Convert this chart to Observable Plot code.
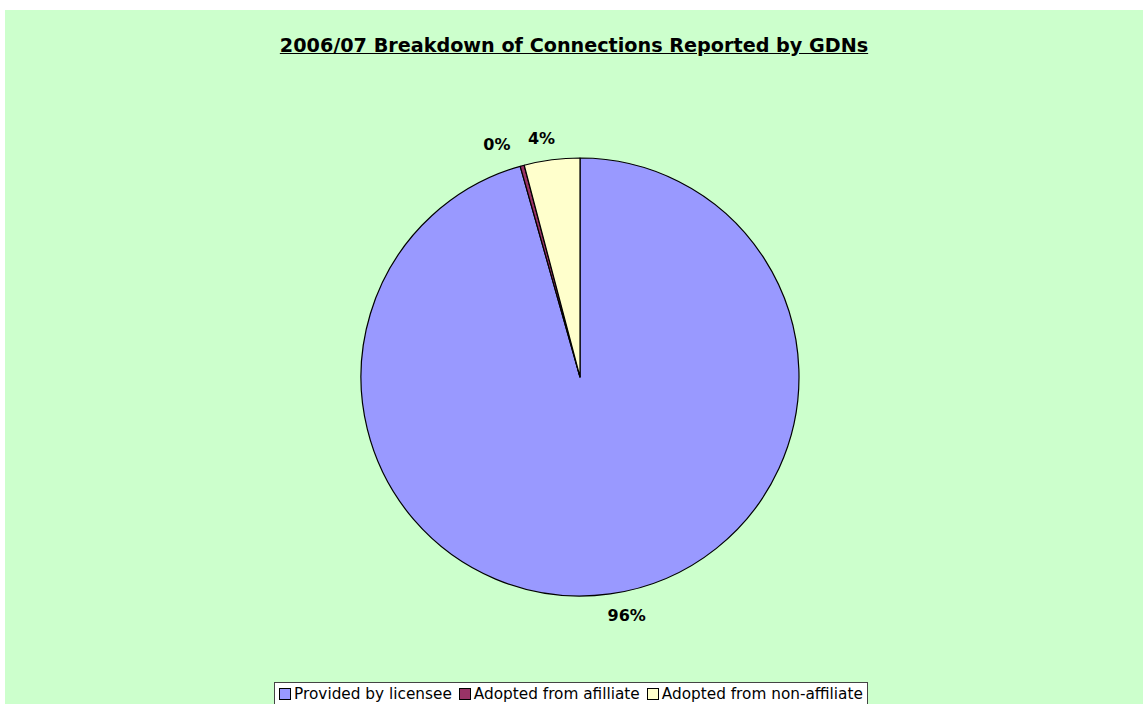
<!DOCTYPE html>
<html>
<head>
<meta charset="utf-8">
<script src="https://cdn.jsdelivr.net/npm/d3@7"></script>
<script src="https://cdn.jsdelivr.net/npm/@observablehq/plot@0.6"></script>
<style>
  html, body { margin: 0; padding: 0; background: #ffffff; }
  #frame {
    position: absolute; left: 5px; top: 10px; width: 1138px; height: 694px;
    background: #CCFFCC; overflow: hidden; font-family: "DejaVu Sans", Verdana, sans-serif;
  }
  #title {
    height: 70px; box-sizing: border-box; padding-top: 25px; text-align: center;
    font-size: 19.2px; font-weight: bold; line-height: 22px; color: #000;
  }
  #title span { text-decoration: underline; }
  #chart { height: 592px; }
  #legend { text-align: center; margin-top: 10px; }
  #legend .box {
    display: inline-block; background: #fff; border: 1px solid #444;
    padding: 1px 4px 6px 4px; font-size: 15.3px; line-height: 20px; color: #000; white-space: nowrap;
    margin-left: -6px;
  }
  #legend .sw {
    display: inline-block; width: 10px; height: 10px; border: 1px solid #000;
    margin-right: 3px; vertical-align: -1px;
  }
  #legend .item { margin-right: 7px; }
  #legend .item:last-child { margin-right: 0; }
</style>
</head>
<body>
<div id="frame">
  <div id="title"><span>2006/07 Breakdown of Connections Reported by GDNs</span></div>
  <div id="chart"></div>
  <div id="legend"></div>
</div>
<script>
// ---- data ----
const categories = ["Provided by licensee", "Adopted from afilliate", "Adopted from non-affiliate"];
const values = [95.6, 0.3, 4.1];
const colors = ["#9999FF", "#993366", "#FFFFCC"];

// ---- layout ----
const W = 1138, H = 592, cx = 575, cy = 297, R = 219;
const labelDx = [13, -20, -8];

const data = categories.map((c, i) => ({category: c, value: values[i]}));
const total = d3.sum(values);
const arcs = d3.pie().sort(null).value(d => d.value)(data);
const labels = arcs.map((a, i) => {
  const mid = (a.startAngle + a.endAngle) / 2;
  return {x: 1.1 * Math.sin(mid), y: 1.1 * Math.cos(mid),
          text: Math.round(a.data.value / total * 100) + "%", dx: labelDx[i]};
});

const pieMark = (index, scales) => {
  const r = scales.x(1) - scales.x(0);
  const ox = scales.x(0), oy = scales.y(0);
  const g = d3.create("svg:g").attr("transform", `translate(${ox},${oy})`);
  const arcGen = d3.arc().innerRadius(0).outerRadius(r);
  g.selectAll("path").data(arcs).join("path")
    .attr("d", arcGen)
    .attr("fill", d => scales.color(d.data.category))
    .attr("stroke", "#000").attr("stroke-width", 1.2).attr("stroke-linejoin", "round");
  return g.node();
};

const plot = Plot.plot({
  width: W, height: H,
  margin: 0,
  style: {background: "transparent", fontFamily: "DejaVu Sans, Verdana, sans-serif"},
  x: {domain: [-1, 1], range: [cx - R, cx + R], axis: null},
  y: {domain: [-1, 1], range: [cy + R, cy - R], axis: null},
  color: {domain: categories, range: colors},
  marks: [
    pieMark,
    ...labels.map(l => Plot.text([l], {x: "x", y: "y", text: "text", dx: l.dx,
      fontSize: 16, fontWeight: "bold", fill: "#000"}))
  ]
});
document.getElementById("chart").appendChild(plot);

// legend
const box = d3.select("#legend").append("div").attr("class", "box");
categories.forEach((c, i) => {
  const it = box.append("span").attr("class", "item");
  it.append("span").attr("class", "sw").style("background", colors[i]);
  it.append("span").text(c);
});
</script>
</body>
</html>
